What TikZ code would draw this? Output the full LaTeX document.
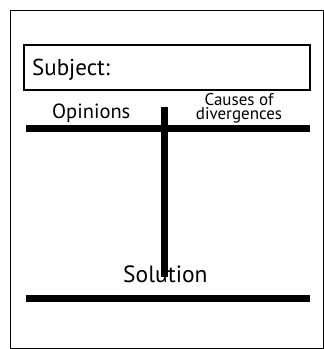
\documentclass[tikz,border=0pt]{standalone}
\usepackage{fontspec}
\setmainfont{PT Sans}
\begin{document}
\begin{tikzpicture}[x=1pt,y=-1pt,
  bar/.style={line width=7pt},
  label/.style={inner sep=0pt, anchor=base west}]
\useasboundingbox (0,0) rectangle (324,349);
% outer frame
\draw[line width=1pt] (10.5,10.5) rectangle (323,348);
% subject box
\draw[line width=2pt] (24,45) rectangle (310,90);
\node[label, font=\fontsize{23}{25}\selectfont] (subject) at (32,75) {Subject:};
% column headings
\node[label, font=\fontsize{20.5}{22}\selectfont] (opinions) at (52,118.5) {Opinions};
\node[inner sep=0pt, anchor=base, align=center, font=\fontsize{17}{14.5}\selectfont] (causes) at (239,119.5) {Causes of\\divergences};
% T-chart bars
\coordinate (tl) at (26,128.5);
\coordinate (tr) at (310,128.5);
\coordinate (vt) at (164.5,107);
\coordinate (vb) at (164.5,277);
\coordinate (bl) at (26,298.5);
\coordinate (br) at (310,298.5);
\node[label, font=\fontsize{23.5}{25}\selectfont] (solution) at (123,282) {Solution};
\draw[bar] (tl) -- (tr);
\draw[bar] (vt) -- (vb);
\draw[bar] (bl) -- (br);
\end{tikzpicture}
\end{document}
